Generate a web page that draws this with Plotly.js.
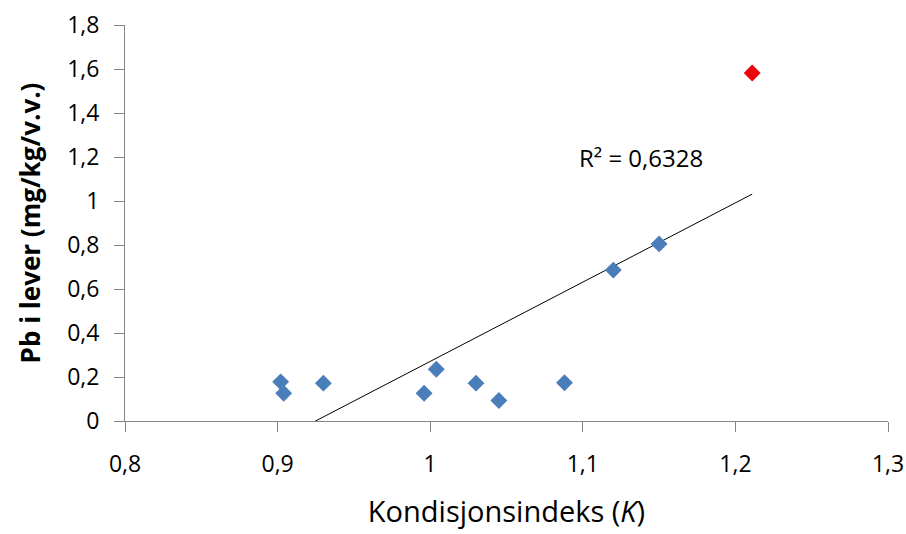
<!DOCTYPE html>
<html>
<head>
<meta charset="utf-8">
<script src="https://cdn.plot.ly/plotly-3.0.1.min.js"></script>
<style>html,body{margin:0;padding:0;background:#fff}#chart{width:906px;height:534px}</style>
</head>
<body>
<div id="chart"></div>
<script>
// Data
const kBlue = [0.902, 0.904, 0.930, 0.996, 1.004, 1.030, 1.045, 1.088, 1.120, 1.150];
const pbBlue = [0.178, 0.126, 0.172, 0.126, 0.235, 0.172, 0.093, 0.174, 0.686, 0.805];
const kRed = [1.211];
const pbRed = [1.582];
const r2Label = "R² = 0,6328";
const xTitle = "Kondisjonsindeks (<i>K</i>)";
const yTitle = "<b>Pb i lever (mg/kg/v.v.)</b>";

// Linear trendline (least squares) over all points, as Excel draws it
const allX = kBlue.concat(kRed), allY = pbBlue.concat(pbRed);
const n = allX.length;
const mx = allX.reduce((a,b)=>a+b,0)/n, my = allY.reduce((a,b)=>a+b,0)/n;
let sxy = 0, sxx = 0;
for (let i=0;i<n;i++){ sxy += (allX[i]-mx)*(allY[i]-my); sxx += (allX[i]-mx)**2; }
const slope = sxy/sxx, icpt = my - slope*mx;
const xMin = Math.min(...allX), xMax = Math.max(...allX);
const trendX = [xMin, xMax];
const trendY = trendX.map(x => icpt + slope*x);

const FONT = "'Open Sans', sans-serif";
const data = [
  {x: trendX, y: trendY, mode: 'lines', line: {color: '#000', width: 1}, hoverinfo: 'skip', showlegend: false},
  {x: kBlue, y: pbBlue, mode: 'markers', marker: {symbol: 'diamond', size: 13, color: '#4A7EBB'}, showlegend: false},
  {x: kRed, y: pbRed, mode: 'markers', marker: {symbol: 'diamond', size: 13, color: '#E8060A'}, showlegend: false}
];
const axisCommon = {
  showgrid: false, zeroline: false, showline: true, linecolor: '#868686', linewidth: 1,
  ticks: 'outside', ticklen: 10, tickcolor: '#868686', tickwidth: 1,
  tickfont: {family: FONT, size: 23, color: '#000'}
};
const layout = {
  width: 906, height: 534,
  margin: {l: 125, r: 18, t: 25, b: 113},
  paper_bgcolor: '#fff', plot_bgcolor: '#fff',
  separators: ', ',
  font: {family: FONT, color: '#000'},
  xaxis: Object.assign({}, axisCommon, {
    range: [0.8, 1.3], dtick: 0.1, tick0: 0.8, ticklabelstandoff: 12,
    title: {text: xTitle, font: {family: FONT, size: 29, color: '#000'}, standoff: 24}
  }),
  yaxis: Object.assign({}, axisCommon, {
    range: [0, 1.8], dtick: 0.2, tick0: 0, ticklabelstandoff: 10,
    title: {text: yTitle, font: {family: FONT, size: 26, color: '#000'}, standoff: 19}
  }),
  annotations: [{
    x: 1.138, y: 1.2, xref: 'x', yref: 'y', text: r2Label, showarrow: false,
    xanchor: 'center', yanchor: 'middle', font: {family: FONT, size: 24, color: '#000'}
  }]
};
Plotly.newPlot('chart', data, layout, {displayModeBar: false, staticPlot: true});
</script>
</body>
</html>
